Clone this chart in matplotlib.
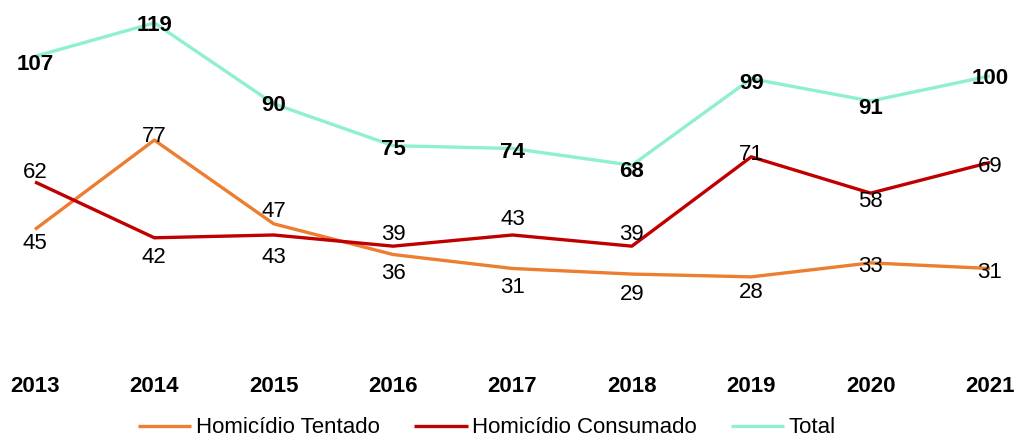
import matplotlib
matplotlib.use("Agg")
import matplotlib.pyplot as plt

plt.rcParams['font.family'] = ['Liberation Sans', 'DejaVu Sans']

years = [2013, 2014, 2015, 2016, 2017, 2018, 2019, 2020, 2021]
tentado = [45, 77, 47, 36, 31, 29, 28, 33, 31]
consumado = [62, 42, 43, 39, 43, 39, 71, 58, 69]
total = [107, 119, 90, 75, 74, 68, 99, 91, 100]

# vertical offset of each data label, in pixels (positive = down)
off_tentado = [14, -4, -12, 19, 19, 20, 16, 4, 4]
off_consumado = [-9, 20, 23, -12, -15, -12, -2, 8, 4]
off_total = [8, 3, 2, 4, 4, 6, 5, 7, 3]

fig = plt.figure(figsize=(10.19, 4.46), dpi=100)
ax = fig.add_axes([0, 91 / 446, 1, 355 / 446])

series = [
    ('Homicídio Tentado', tentado, '#ED7D31', off_tentado, 'normal'),
    ('Homicídio Consumado', consumado, '#C00000', off_consumado, 'normal'),
    ('Total', total, '#8FEFD2', off_total, 'bold'),
]

for name, vals, color, offs, weight in series:
    ax.plot(years, vals, color=color, lw=2.4, label=name, solid_capstyle='butt')

for name, vals, color, offs, weight in series:
    for x, v, dy in zip(years, vals, offs):
        ax.annotate(str(v), (x, v), xytext=(0, -dy * 0.72), textcoords='offset points',
                    ha='center', va='center', fontsize=16, fontweight=weight, color='black')

ax.set_xlim(2012.707, 2021.243)
ax.set_ylim(0, 127.2)
ax.set_xticks(years)
ax.set_xticklabels([str(y) for y in years], fontsize=16, fontweight='bold')
ax.tick_params(axis='x', length=0, pad=15)
ax.set_yticks([])
for s in ax.spines.values():
    s.set_visible(False)

fig.legend(loc='lower center', bbox_to_anchor=(0.478, -0.028), ncol=3, frameon=False,
           fontsize=16, handlelength=2.4, handletextpad=0.2, columnspacing=1.55)

fig.savefig('out.png', dpi=100)
